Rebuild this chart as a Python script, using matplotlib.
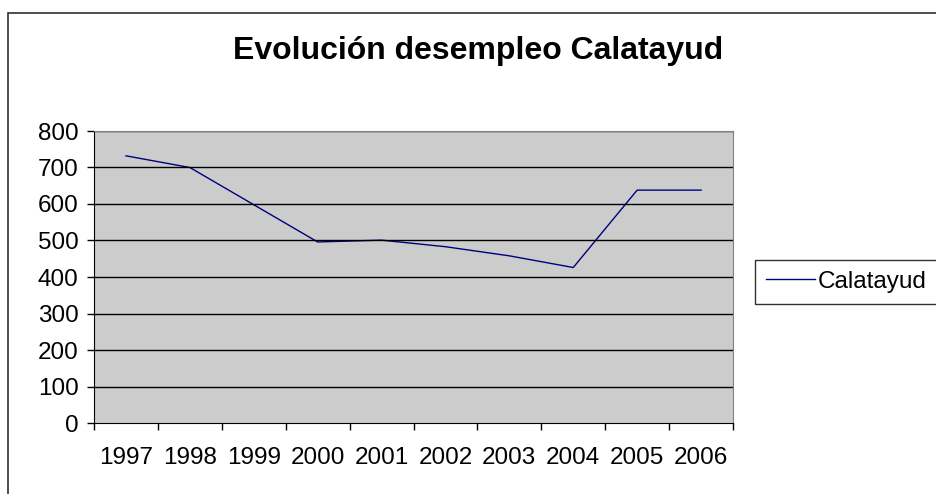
import numpy as np
import matplotlib
matplotlib.use("Agg")
import matplotlib.pyplot as plt
from matplotlib.patches import Rectangle

# Datos
anios = ["1997", "1998", "1999", "2000", "2001", "2002", "2003", "2004", "2005", "2006"]
desempleo = [732, 700, 598, 496, 501, 483, 458, 426, 638, 638]
ticks_y = [0, 100, 200, 300, 400, 500, 600, 700, 800]

plt.rcParams["font.family"] = ["Liberation Sans", "DejaVu Sans"]

fig = plt.figure(figsize=(9.36, 4.94), dpi=100)
ax = fig.add_axes([94 / 936, 71 / 494, 639 / 936, 292 / 494])
ax.set_facecolor("#CCCCCC")

x = np.arange(len(anios))
ax.plot(x, desempleo, color="#000080", linewidth=1, label="Calatayud")

ax.set_xlim(-0.5, len(anios) - 0.5)
ax.set_ylim(0, 800)

# Marcas del eje X entre categorías, etiquetas centradas
ax.set_xticks(np.arange(-0.5, len(anios)), labels=[])
ax.set_xticks(x, labels=anios, minor=True)
ax.tick_params(axis="x", which="major", direction="out", length=5, width=1, color="black")
ax.tick_params(axis="x", which="minor", length=0, pad=17, labelsize=17.5)

ax.set_yticks(ticks_y)
ax.tick_params(axis="y", direction="out", length=5, width=1, pad=6, labelsize=17.5)

for v in ticks_y[1:]:
    ax.axhline(v, color="black", linewidth=1)

for lado in ["top", "right"]:
    ax.spines[lado].set_color("#808080")
for lado in ["left", "bottom"]:
    ax.spines[lado].set_color("black")

fig.text(478 / 936, (494 - 59) / 494, "Evolución desempleo Calatayud",
         ha="center", va="baseline", fontsize=23, fontweight="bold")

leg = fig.legend(loc="center left", bbox_to_anchor=(755 / 936, (494 - 282) / 494),
                 fontsize=17.5, frameon=True, fancybox=False, shadow=False,
                 handlelength=2.0, handletextpad=0.15, borderpad=0.45,
                 borderaxespad=0)
leg.get_frame().set_edgecolor("black")
leg.get_frame().set_linewidth(1)

# Borde exterior del área del gráfico
fig.patches.append(Rectangle((8 / 936, -0.1), 1.2, (494 - 13) / 494 + 0.1,
                             transform=fig.transFigure, fill=False,
                             edgecolor="#303030", linewidth=1.2))

fig.savefig("out.png", dpi=100)
